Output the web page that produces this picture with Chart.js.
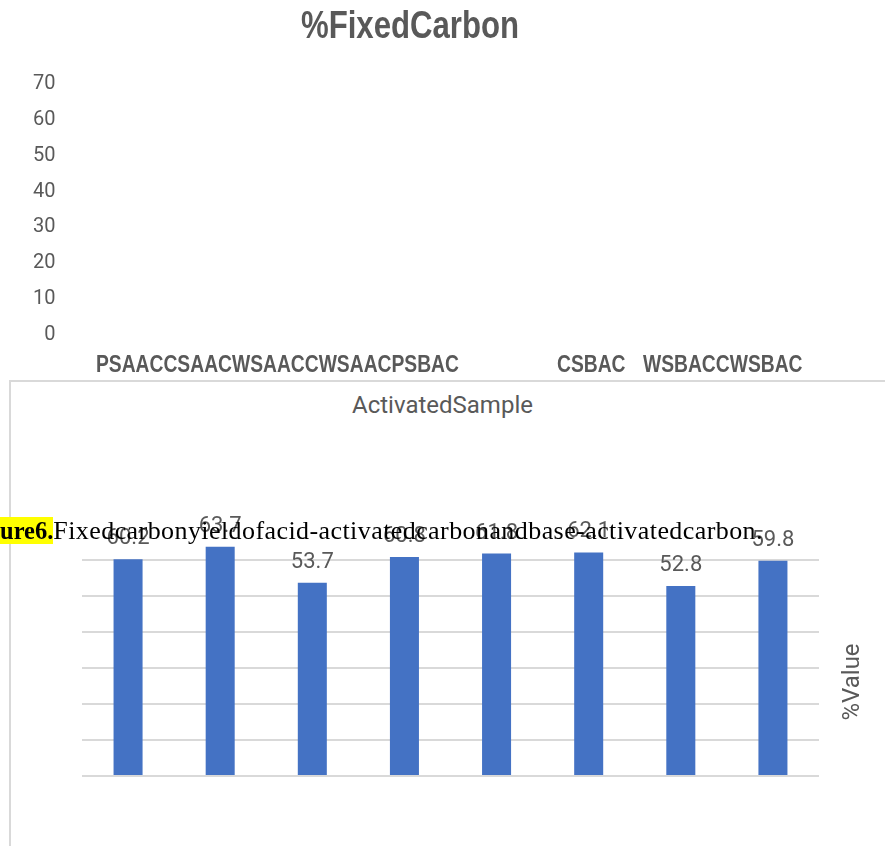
<!DOCTYPE html>
<html>
<head>
<meta charset="utf-8">
<script src="https://cdn.jsdelivr.net/npm/chart.js@4.4.1/dist/chart.umd.min.js"></script>
<style>
  html, body { margin: 0; padding: 0; background: #fff; }
  body { width: 885px; height: 846px; position: relative; overflow: hidden; }
  #axisChart { position: absolute; left: 0; top: 0; }
  #barChart { position: absolute; left: 0; top: 470px; }
  #frame {
    position: absolute; left: 9px; top: 380px; width: 876px; height: 466px;
    border-top: 2px solid #d9d9d9; border-left: 2px solid #d9d9d9; box-sizing: border-box;
  }
  .cat {
    position: absolute; top: 351px; line-height: 23px; white-space: nowrap;
    font: bold 23.5px 'Liberation Sans', Arial, sans-serif; color: #595959;
    transform: scaleX(0.82); transform-origin: left top;
  }
  #xTitle {
    position: absolute; left: 0; top: 392px; width: 885px; text-align: center;
    font: 24px Roboto, sans-serif; line-height: 26px; color: #595959;
  }
  #caption {
    position: absolute; left: 0; top: 518px; white-space: nowrap; z-index: 5;
    font: 26px 'Liberation Serif', 'Times New Roman', serif; line-height: 26px; color: #000;
    letter-spacing: 0.42px;
  }
  #caption b { background: #ffff00; font-size: 24.5px; letter-spacing: 0; }
</style>
</head>
<body>
<div id="frame"></div>
<canvas id="axisChart" width="820" height="380"></canvas>
<div class="cat" id="catA" style="left:96px"></div>
<div class="cat" id="catB" style="left:557px"></div>
<div class="cat" id="catC" style="left:643px"></div>
<div id="xTitle"></div>
<canvas id="barChart" width="885" height="376"></canvas>
<div id="caption"><b>ure6.</b>Fixedcarbonyieldofacid-activatedcarbonandbase-activatedcarbon.</div>

<script>
// Activated carbon samples and their fixed carbon content (%)
const chartTitle = '%FixedCarbon';
const xAxisTitle = 'ActivatedSample';
const yAxisTitle = '%Value';
const categories = ['PSAAC', 'CSAAC', 'WSAAC', 'CWSAAC', 'PSBAC', 'CSBAC', 'WSBAC', 'CWSBAC'];
const fixedCarbon = [60.2, 63.7, 53.7, 60.8, 61.8, 62.1, 52.8, 59.8];
const yTicks = [0, 10, 20, 30, 40, 50, 60, 70];

const grey = '#595959';
const gridGrey = '#d9d9d9';
const barBlue = '#4472C4';

// category names along the header row
document.getElementById('catA').textContent = categories.slice(0, 5).join('');
document.getElementById('catB').textContent = categories[5];
document.getElementById('catC').textContent = categories.slice(6).join('');
document.getElementById('xTitle').textContent = xAxisTitle;

// narrow bold chart title
const condensedTitle = {
  id: 'condensedTitle',
  afterDraw(chart) {
    const { ctx } = chart;
    ctx.save();
    ctx.translate(chart.width / 2, 28);
    ctx.scale(0.82, 1);
    ctx.font = "bold 38px 'Liberation Sans', Arial, sans-serif";
    ctx.fillStyle = grey;
    ctx.textAlign = 'center';
    ctx.textBaseline = 'middle';
    ctx.fillText(chartTitle, 0, 0);
    ctx.restore();
  }
};

// title and value axis
new Chart(document.getElementById('axisChart'), {
  type: 'bar',
  data: { labels: categories, datasets: [] },
  options: {
    responsive: false, animation: false, events: [],
    layout: { padding: { left: 29, right: 0, top: 84, bottom: 45 } },
    plugins: { legend: { display: false }, tooltip: { enabled: false }, title: { display: false } },
    scales: {
      x: { display: false },
      y: {
        min: yTicks[0], max: yTicks[yTicks.length - 1],
        afterBuildTicks: (scale) => { scale.ticks = yTicks.map(v => ({ value: v })); },
        ticks: { color: grey, font: { family: 'Roboto', size: 20 }, padding: 4 },
        grid: { display: false },
        border: { display: false }
      }
    }
  },
  plugins: [condensedTitle]
});

// value labels above each bar
const valueLabels = {
  id: 'valueLabels',
  afterDatasetsDraw(chart) {
    const { ctx } = chart;
    ctx.save();
    ctx.font = '22px Roboto';
    ctx.fillStyle = grey;
    ctx.textAlign = 'center';
    ctx.textBaseline = 'alphabetic';
    chart.getDatasetMeta(0).data.forEach((bar, i) => {
      ctx.fillText(fixedCarbon[i].toFixed(1), bar.x, bar.y - 15);
    });
    ctx.restore();
  }
};

// rotated value-axis title on the right
const sideTitle = {
  id: 'sideTitle',
  afterDraw(chart) {
    const { ctx, chartArea } = chart;
    ctx.save();
    ctx.translate(chartArea.right + 34, chartArea.top + 158);
    ctx.rotate(-Math.PI / 2);
    ctx.font = '24px Roboto';
    ctx.fillStyle = grey;
    ctx.textAlign = 'center';
    ctx.textBaseline = 'middle';
    ctx.fillText(yAxisTitle, 0, 0);
    ctx.restore();
  }
};

new Chart(document.getElementById('barChart'), {
  type: 'bar',
  data: {
    labels: categories,
    datasets: [{
      data: fixedCarbon,
      backgroundColor: barBlue,
      categoryPercentage: 1,
      barPercentage: 0.315
    }]
  },
  options: {
    responsive: false, animation: false, events: [],
    layout: { padding: { left: 82, right: 66, top: 54, bottom: 70 } },
    plugins: { legend: { display: false }, tooltip: { enabled: false } },
    scales: {
      x: { display: false },
      y: {
        min: yTicks[0], max: yTicks[yTicks.length - 1],
        afterBuildTicks: (scale) => { scale.ticks = yTicks.map(v => ({ value: v })); },
        ticks: { display: false },
        grid: {
          drawTicks: false, lineWidth: 2,
          color: (c) => (c.tick && c.tick.value === yTicks[yTicks.length - 1]) ? 'rgba(0,0,0,0)' : gridGrey
        },
        border: { display: false }
      }
    }
  },
  plugins: [valueLabels, sideTitle]
});
</script>
</body>
</html>
